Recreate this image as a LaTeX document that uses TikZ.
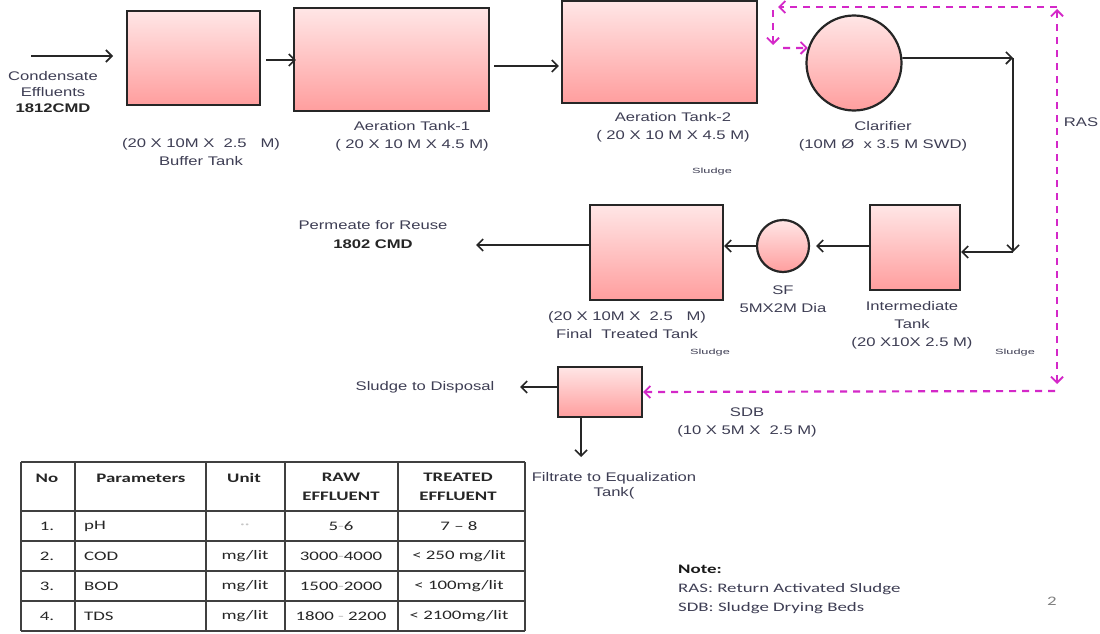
\documentclass[tikz,border=0pt]{standalone}
\usepackage{fontspec}
\setmainfont{Liberation Sans}
\newfontfamily\lblf[FakeStretch=1.33]{Liberation Sans}
\newfontfamily\tinyf[FakeStretch=1.7]{Liberation Sans}
\newfontfamily\calf[FakeStretch=1.45]{Carlito}
\usetikzlibrary{arrows.meta}
\definecolor{rasc}{RGB}{212,40,200}
\definecolor{lblc}{RGB}{62,62,84}
\definecolor{pinktop}{RGB}{255,230,230}
\definecolor{pinkbot}{RGB}{255,158,158}
\tikzset{
  btip/.tip={Straight Barb[length=6pt,width=12pt,line width=1.6pt]},
  rtip/.tip={Straight Barb[length=6pt,width=12pt,line width=1.8pt]},
}
\begin{document}
\begin{tikzpicture}[x=1pt,y=-1pt,
  tank/.style={draw=black!85, line width=2.2pt, top color=pinktop, bottom color=pinkbot, inner sep=0pt},
  ctank/.style={tank, circle},
  flow/.style={line width=1.8pt, draw=black!85, -btip},
  ras/.style={line width=2.2pt, draw=rasc, dash pattern=on 7pt off 6pt, -rtip},
  lab/.style={font=\lblf\fontsize{12.5}{18}\selectfont, text=lblc, align=center, inner sep=0pt},
  tinylab/.style={font=\tinyf\fontsize{7.5}{8}\selectfont, text=lblc, inner sep=0pt},
  grid/.style={line width=1.8pt, draw=black!75},
  th/.style={font=\calf\bfseries\fontsize{13}{19}\selectfont, text=black!85, align=center, inner sep=0pt},
  td/.style={font=\calf\fontsize{13}{16}\selectfont, text=black!85, inner sep=0pt},
  note/.style={font=\calf\fontsize{13}{16}\selectfont, text=lblc, inner sep=0pt},
]
\useasboundingbox (0,0) rectangle (1100,634);
\fill[white] (0,0) rectangle (1100,634);

% tanks
\node[tank, minimum width=133pt, minimum height=94pt] (buf) at (193.5,58) {};
\node[tank, minimum width=195pt, minimum height=103pt] (at1) at (391.5,59.5) {};
\node[tank, minimum width=195pt, minimum height=102pt] (at2) at (659.5,52) {};
\node[ctank, minimum size=95pt] (clar) at (854,63) {};
\node[tank, minimum width=90pt, minimum height=85pt] (itank) at (915,247.5) {};
\node[ctank, minimum size=52pt] (sf) at (783,246) {};
\node[tank, minimum width=133pt, minimum height=95pt] (fin) at (656.5,252.5) {};
\node[tank, minimum width=84pt, minimum height=50pt] (sdb) at (600,392) {};

% free ends
\coordinate (inlet) at (31,56);
\coordinate (c1) at (1013,58);
\coordinate (c2) at (1013,252);
\coordinate (perm) at (476,245);
\coordinate (disp) at (520,387);
\coordinate (filt) at (581,457);
\coordinate (rb) at (1057,384);
\coordinate (rt) at (1057,9);
\coordinate (rtop) at (1057,7);
\coordinate (rl) at (778,7);
\coordinate (rv1) at (773,10);
\coordinate (rv2) at (773,45);
\coordinate (rh) at (783,48);
\coordinate (rbot) at (1055,391);

% flows
\draw[flow] (inlet) -- (113,56);
\draw[flow] ([xshift=5pt]buf.east |- 0,60) -- ([xshift=3pt]at1.west |- 0,60);
\draw[flow] ([xshift=4pt]at1.east |- 0,66) -- ([xshift=-2pt]at2.west |- 0,66);
\draw[flow] (clar.6) -- (c1);
\draw[flow] (c1) -- (c2);
\draw[flow] (c2) -- (itank.east |- c2);
\draw[flow] (itank.west |- 0,246) -- ([xshift=6pt]sf.east);
\draw[flow] (sf.west) -- (fin.east |- 0,246);
\draw[flow] (fin.west |- 0,245) -- (perm);
\draw[flow] (sdb.west |- 0,387) -- (disp);
\draw[flow] (sdb.south -| 581,0) -- (filt);

% RAS / sludge return (dashed magenta)
\draw[ras, rtip-rtip] (rb) -- (rt);
\draw[ras] (rtop) -- (rl);
\draw[ras] (rv1) -- (rv2);
\draw[ras] (rh) -- (clar.162);
\draw[ras] (rbot) -- (sdb.east);

% labels
\node[lab] (lcond) at (53,92) {Condensate\\[-2pt]Effluents\\[-2pt]{\color{black!85}\bfseries 1812CMD}};
\node[lab] (lbuf) at (201,152.5) {(20 X 10M X\ \ 2.5\ \ \ M)\\Buffer Tank};
\node[lab] (lat1) at (412,136.5) {Aeration Tank-1\\( 20 X 10 M X 4.5 M)};
\node[lab] (lat2) at (673,127.5) {Aeration Tank-2\\( 20 X 10 M X 4.5 M)};
\node[tinylab] (sl1) at (712,172) {Sludge};
\node[lab] (lclar) at (883,136) {Clarifier\\(10M Ø\ \ x 3.5 M SWD)};
\node[lab] (lras) at (1081,122) {RAS};
\node[lab] (lperm) at (373,235) {Permeate for Reuse\\[1pt]{\color{black!85}\bfseries 1802 CMD}};
\node[lab] (lfin) at (627,325.5) {(20 X 10M X\ \ 2.5\ \ \ M)\\Final\ \ Treated Tank};
\node[tinylab] (sl2) at (710,353) {Sludge};
\node[lab] (lsf) at (783,299) {SF\\5MX2M Dia};
\node[lab] (lint) at (912,325.5) {Intermediate\\Tank\\(20 X10X 2.5 M)};
\node[tinylab] (sl3) at (1015,353) {Sludge};
\node[lab] (ldisp) at (425,387) {Sludge to Disposal};
\node[lab] (lsdb) at (747,422.5) {SDB\\(10 X 5M X\ \ 2.5 M)};
\node[lab] (lfilt) at (614,485.5) {Filtrate to Equalization\\[-3pt]Tank(};

% table
\foreach \x in {21,75,206,285,398,525} \draw[grid] (\x,462) -- (\x,631);
\foreach \y in {462,511,541,571,601,631} \draw[grid] (21,\y) -- (525,\y);
\node[th] (hno) at (47,478) {No};
\node[th] (hpar) at (141,478) {Parameters};
\node[th] (hunit) at (244,478) {Unit};
\node[th] (hraw) at (341,487) {RAW\\EFFLUENT};
\node[th] (htr) at (458,487) {TREATED\\EFFLUENT};

\node[td] (no1) at (47,526) {1.};
\node[td, anchor=west] (par1) at (84,526) {pH};
\node[td] (un1) at (245,526) {\color{gray!45}··};
\node[td] (raw1) at (341,526) {5{\color{gray!50}-}6};
\node[td] (tr1) at (459,526) {7 – 8};

\node[td] (no2) at (47,556) {2.};
\node[td, anchor=west] (par2) at (84,556) {COD};
\node[td] (un2) at (245,556) {mg/lit};
\node[td] (raw2) at (341,556) {3000{\color{gray!50}-}4000};
\node[td] (tr2) at (459,556) {< 250 mg/lit};

\node[td] (no3) at (47,586) {3.};
\node[td, anchor=west] (par3) at (84,586) {BOD};
\node[td] (un3) at (245,586) {mg/lit};
\node[td] (raw3) at (341,586) {1500{\color{gray!50}-}2000};
\node[td] (tr3) at (459,586) {< 100mg/lit};

\node[td] (no4) at (47,616) {4.};
\node[td, anchor=west] (par4) at (84,616) {TDS};
\node[td] (un4) at (245,616) {mg/lit};
\node[td] (raw4) at (341,616) {1800 {\color{gray!50}-} 2200};
\node[td] (tr4) at (459,616) {< 2100mg/lit};

% note
\node[note, anchor=west] (nt1) at (678,569) {{\color{black!90}\bfseries Note:}};
\node[note, anchor=west] (nt2) at (678,589) {RAS: Return Activated Sludge};
\node[note, anchor=west] (nt3) at (678,608) {SDB: Sludge Drying Beds};
\node[note, text=gray] (pg) at (1052,601) {2};
\end{tikzpicture}
\end{document}
